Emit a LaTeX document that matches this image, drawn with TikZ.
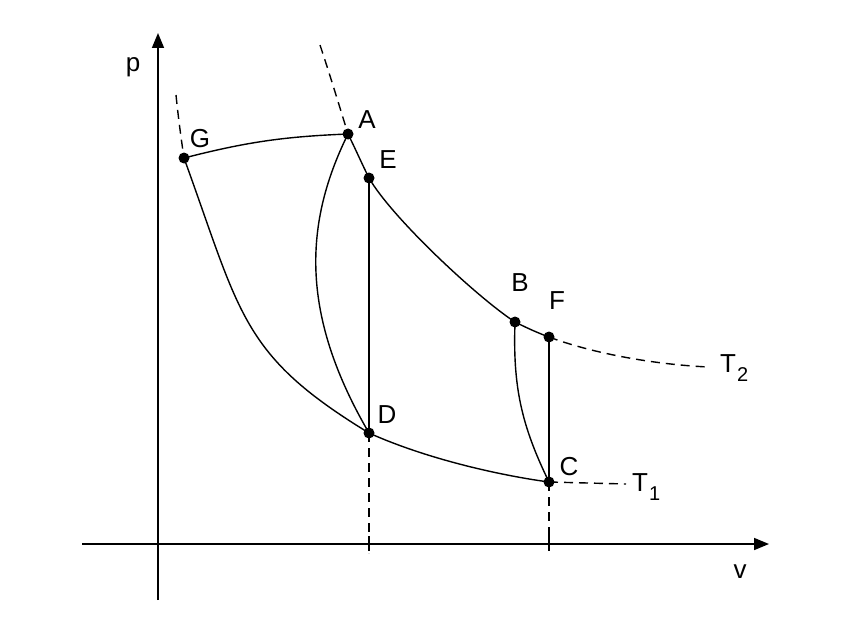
\documentclass[tikz,border=0pt]{standalone}
\usepackage{fontspec}
\setmainfont{Liberation Sans}
\usetikzlibrary{arrows.meta}
\begin{document}
\begin{tikzpicture}[x=1pt,y=-1pt,
  curve/.style={line width=1.4pt},
  dashline/.style={line width=1.4pt, dash pattern=on 9pt off 6pt},
  axis/.style={line width=1.6pt},
  tick/.style={line width=2.4pt},
  lbl/.style={font=\fontsize{26}{26}\selectfont, inner sep=0pt},
  dot/.style={circle, fill=black, inner sep=0pt, minimum size=11pt}]
\useasboundingbox (0,0) rectangle (856,623);
% axes
\coordinate (vy0) at (158,600);
\coordinate (vy1) at (158,33);
\coordinate (hx0) at (82,544);
\coordinate (hx1) at (769,544);
\draw[axis,-{Triangle[length=15pt,width=12pt]}] (vy0) -- (vy1);
\draw[axis,-{Triangle[length=15pt,width=12pt]}] (hx0) -- (hx1);
% points
\coordinate (G) at (184,158);
\coordinate (A) at (348,134);
\coordinate (E) at (369,178);
\coordinate (B) at (515,322);
\coordinate (F) at (549,337);
\coordinate (D) at (369,433);
\coordinate (C) at (549,482);
\coordinate (Gd) at (176,95);
\coordinate (Ad) at (320,45);
\coordinate (T2e) at (708,367);
\coordinate (T1e) at (626,484);
\coordinate (Dax) at (369,553);
\coordinate (Cax) at (549,553);
% curves
\draw[curve] (G) to[bend left=6] (A);
\draw[curve] (A) .. controls (355,148) and (362,164) .. (E)
  .. controls (392,218) and (478,298) .. (B)
  .. controls (527,328) and (538,333) .. (F);
\draw[curve] (G) .. controls (241,315) and (241,355) .. (D)
  .. controls (429,460) and (504,476) .. (C);
\draw[curve] (A) .. controls (302,227) and (302,318) .. (D);
\draw[curve] (B) to[bend right=14] (C);
\draw[curve] (E) -- (D);
\draw[curve] (F) -- (C);
% dashed
\draw[dashline] (Gd) .. controls (178,115) and (181,138) .. (G);
\draw[dashline] (Ad) .. controls (330,75) and (340,108) .. (A);
\draw[dashline] (F) .. controls (589,352) and (648,364) .. (T2e);
\draw[dashline] (C) -- (T1e);
\draw[dashline] (D) -- (Dax);
\draw[dashline] (C) -- (Cax);
\draw[tick] (369,536) -- (369,551);
\draw[tick] (549,536) -- (549,551);
% dots
\foreach \p in {G,A,E,B,F,D,C} \node[dot] (d\p) at (\p) {};
% labels
\node[lbl] (lp) at (133,67) {p};
\node[lbl] (lv) at (740,572) {v};
\node[lbl] (lG) at (200,139) {G};
\node[lbl] (lA) at (367,120) {A};
\node[lbl] (lE) at (388,160) {E};
\node[lbl] (lB) at (520,283) {B};
\node[lbl] (lF) at (557,301) {F};
\node[lbl] (lC) at (569,467) {C};
\node[lbl] (lD) at (387,415) {D};
\node[lbl, anchor=base west] (lT2) at (720,372) {T\kern1pt\raisebox{-9pt}{\fontsize{20}{20}\selectfont 2}};
\node[lbl, anchor=base west] (lT1) at (632,491) {T\kern1pt\raisebox{-9pt}{\fontsize{20}{20}\selectfont 1}};
\end{tikzpicture}
\end{document}
